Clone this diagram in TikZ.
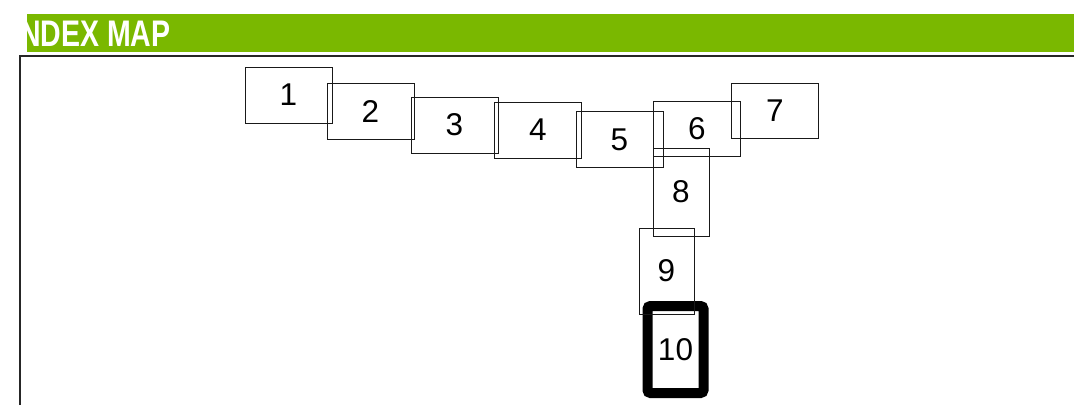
\documentclass[tikz,border=0pt]{standalone}
\usepackage{fontspec}
\setmainfont{Liberation Sans}
\newfontfamily\titlefont[FakeStretch=0.77]{Liberation Sans}
\definecolor{barGreen}{RGB}{122,184,0}
\tikzset{
  mapbox/.style={draw=black!90, line width=1pt, inner sep=0pt, font=\fontsize{31.5}{31.5}\selectfont},
  curbox/.style={draw=black, line width=10pt, rounded corners=3pt, inner sep=0pt, font=\fontsize{31.5}{31.5}\selectfont},
}
\begin{document}
\begin{tikzpicture}[x=1pt,y=-1pt]
\useasboundingbox (0,0) rectangle (1074,405);
% title bar
\begin{scope}
  \clip (27,14) rectangle (1074,52);
  \fill[barGreen] (27,14) rectangle (1074,52);
  \node[anchor=base west, inner sep=0pt, text=white, font=\titlefont\fontsize{37}{37}\bfseries\selectfont] (title) at (12,46) {INDEX MAP};
\end{scope}
% frame
\draw[line width=2pt, black!85] (20,405) -- (20,55.5) -- (1074,55.5);
% map boxes
\node[curbox, minimum width=56pt, minimum height=87pt] (b10) at (675.5,349.5) {10};
\node[mapbox, minimum width=87pt, minimum height=56pt] (b1) at (288.5,95) {1};
\node[mapbox, minimum width=87pt, minimum height=56pt] (b2) at (370.5,111) {2};
\node[mapbox, minimum width=87pt, minimum height=56pt] (b3) at (454.5,125) {3};
\node[mapbox, minimum width=87pt, minimum height=56pt] (b4) at (538,130) {4};
\node[mapbox, minimum width=87pt, minimum height=56pt] (b5) at (619.5,139.5) {5};
\node[mapbox, minimum width=87pt, minimum height=55pt] (b6) at (697,128.5) {6};
\node[mapbox, minimum width=87pt, minimum height=55pt] (b7) at (775,111) {7};
\node[mapbox, minimum width=56pt, minimum height=88pt] (b8) at (681,192) {8};
\node[mapbox, minimum width=55pt, minimum height=86pt] (b9) at (666.5,271) {9};
\end{tikzpicture}
\end{document}
